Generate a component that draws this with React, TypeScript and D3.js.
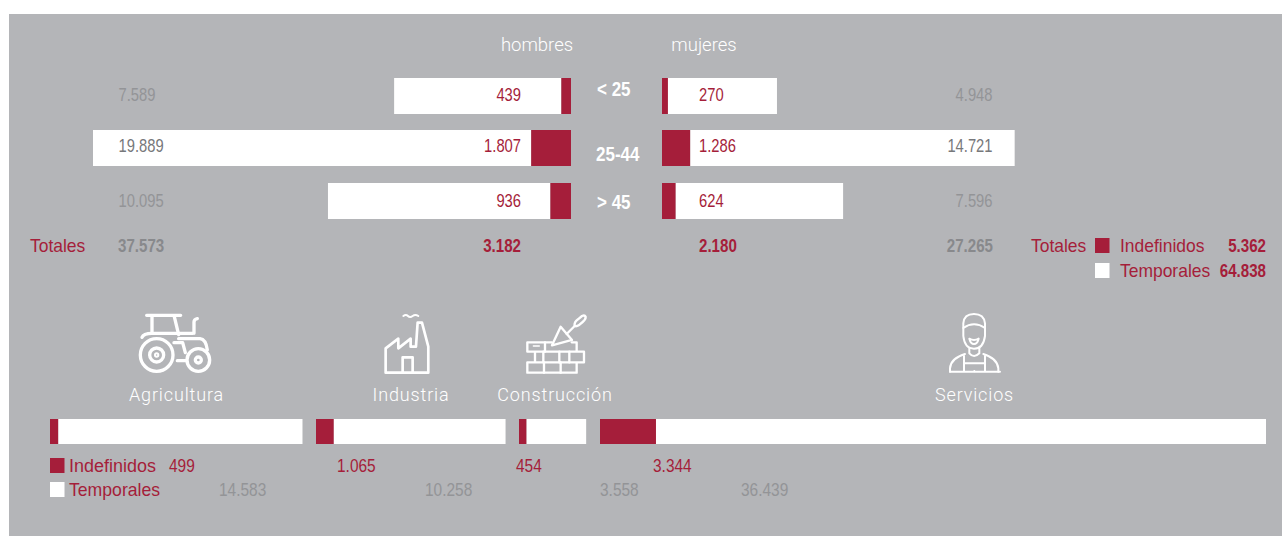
import React from "react";
import * as d3 from "d3";

const ageGroups = ["< 25", "25-44", "> 45"];
const menPermanent = [439, 1807, 936];
const menTemporary = [7589, 19889, 10095];
const womenPermanent = [270, 1286, 624];
const womenTemporary = [4948, 14721, 7596];
const menTotals = ["37.573", "3.182"];
const womenTotals = ["2.180", "27.265"];
const grandTotals = ["5.362", "64.838"];
const sectors = ["Agricultura", "Industria", "Construcción", "Servicios"];
const sectorPermanent = [499, 1065, 454, 3344];
const sectorTemporary = [14583, 10258, 3558, 36439];

const fmt = (v: number) => d3.format(",")(v).replace(",", ".");

const RED = "#a51e3a";
const BG = "#b4b5b8";
const GREY = "#88898c";
const LIGHT = "#939497";
const NARROW = "'Liberation Sans', sans-serif";
const THIN = "Roboto, sans-serif";

const rowTop = [78, 130, 183];
const rowH = 36;
const rowText = [101, 152, 207];
const ageY = [96, 161, 209];
const menX0 = 571;
const womenX0 = 662;
const pyramid = d3.scaleLinear().domain([0, 21696]).range([0, 478]);

const sectorX = d3.scaleLinear().domain([0, 39783]).range([0, 666]);
const sectorStart = [50, 316, 519, 600];
const permTextX = [169, 337, 516, 653];
const tempTextX = [219, 425, 600, 741];
const labelCx = [176.5, 411, 555, 974.5];

// The reference uses a condensed face; squeeze the installed one horizontally.
const T = ({ x, y, sx = 0.82, ...p }: any) => (
  <text transform={`translate(${x},${y}) scale(${sx},1)`} fontFamily={NARROW} fontSize={18} {...p} />
);
const WORD = 0.97;
const BOTTOM_NUM = 0.86;

function Icons() {
  const s = { fill: "none", stroke: "#fff", strokeWidth: 10, strokeLinejoin: "round" as const, strokeLinecap: "round" as const };
  return (
    <g>
      <g transform="translate(120,300) scale(0.3333)" {...s}>
        <path d="M80 46H182M96 46V100M162 46L176 104" />
        <path d="M66 112C70 102 80 100 96 100H218M222 100V66Q222 58 232 56M176 116H240Q258 118 262 150" />
        <circle cx="110" cy="165" r="49" />
        <circle cx="110" cy="165" r="21" />
        <circle cx="110" cy="165" r="3" />
        <path d="M162 128H188L196 158M172 182H198" />
        <circle cx="235" cy="180" r="34" />
        <circle cx="235" cy="180" r="9" />
      </g>
      <g transform="translate(120,300) scale(0.3333)" {...s} strokeWidth={8}>
        <path d="M797 218V145L835 116V145L872 116V140H888L893 68H906L925 140V218Z" />
        <path d="M848 218V172H878V218" />
        <path d="M850 48Q858 42 864 48T878 48T895 48" strokeWidth={6} />
      </g>
      <g transform="translate(490,300) scale(0.3333)" {...s} strokeWidth={7}>
        <path d="M185 127H112V155H260V127H245M135 155V187H282V155H260M112 187V218H260V187M112 187H135" />
        <path d="M160 155V187M208 155V187M238 155V187M162 187V218M212 187V218M165 127V155" />
        <path d="M212 80L186 136L246 120Z" />
        <path d="M230 102L254 78" />
        <path d="M254 78Q252 66 264 58L276 48Q284 44 287 50Q288 58 278 66L266 76Q260 80 254 78Z" />
        <path d="M130 138H148" strokeWidth={4} />
      </g>
      <g transform="translate(920,300) scale(0.3333)" {...s} strokeWidth={6}>
        <path d="M130 84V70Q132 42 162 42Q192 42 195 70V84" />
        <path d="M130 84Q162 62 195 84M130 84V108Q134 146 162 146Q190 146 195 108V84" />
        <path d="M148 116Q162 124 176 116Q172 132 162 132Q152 132 148 116Z" />
        <path d="M148 144V160Q162 176 178 160V144" />
        <path d="M90 215V205Q92 175 135 162M235 215V205Q232 175 190 162" />
        <path d="M90 215H240M132 168V190H195V168M132 190V215M195 190V215" />
        <path d="M163 213V214" />
      </g>
    </g>
  );
}

export default function App() {
  return (
    <svg width={1282} height={536} style={{ position: "absolute", left: 0, top: 0, background: "#fff" }}>
      <rect x={9} y={14} width={1273} height={522} fill={BG} />

      <text x={537} y={51} textAnchor="middle" fontFamily={THIN} fontWeight={300} fontSize={18.5} fill="#fff">hombres</text>
      <text x={704} y={51} textAnchor="middle" fontFamily={THIN} fontWeight={300} fontSize={18.5} fill="#fff">mujeres</text>

      {ageGroups.map((a, i) => {
        const mp = pyramid(menPermanent[i]);
        const mt = pyramid(menTemporary[i]);
        const wp = pyramid(womenPermanent[i]);
        const wt = pyramid(womenTemporary[i]);
        return (
          <g key={a}>
            <rect x={menX0 - mp - mt} y={rowTop[i]} width={mt} height={rowH} fill="#fff" />
            <rect x={menX0 - mp} y={rowTop[i]} width={mp} height={rowH} fill={RED} />
            <rect x={womenX0} y={rowTop[i]} width={wp} height={rowH} fill={RED} />
            <rect x={womenX0 + wp} y={rowTop[i]} width={wt} height={rowH} fill="#fff" />
            <T x={118.5} y={rowText[i]} fill={i === 1 ? "#77787b" : LIGHT}>{fmt(menTemporary[i])}</T>
            <T x={521} y={rowText[i]} textAnchor="end" fill={RED}>{fmt(menPermanent[i])}</T>
            <T x={699} y={rowText[i]} fill={RED}>{fmt(womenPermanent[i])}</T>
            <T x={992.5} y={rowText[i]} textAnchor="end" fill={i === 1 ? "#77787b" : LIGHT}>{fmt(womenTemporary[i])}</T>
            <T x={i === 1 ? 596 : 597} y={ageY[i]} sx={0.85} fontSize={20} fontWeight={700} fill="#fff">{a}</T>
          </g>
        );
      })}

      <T x={30} y={251.5} sx={WORD} fill={RED}>Totales</T>
      <T x={118} y={251.5} sx={0.84} fontWeight={700} fill={GREY}>{menTotals[0]}</T>
      <T x={521} y={251.5} sx={0.84} textAnchor="end" fontWeight={700} fill={RED}>{menTotals[1]}</T>
      <T x={699} y={251.5} sx={0.84} fontWeight={700} fill={RED}>{womenTotals[0]}</T>
      <T x={993} y={251.5} sx={0.84} textAnchor="end" fontWeight={700} fill={GREY}>{womenTotals[1]}</T>

      <T x={1031} y={251.5} sx={WORD} fill={RED}>Totales</T>
      <rect x={1095} y={238} width={14.5} height={15} fill={RED} />
      <rect x={1095} y={263} width={14.5} height={15} fill="#fff" />
      <T x={1120} y={251.5} sx={WORD} fill={RED}>Indefinidos</T>
      <T x={1120} y={276.5} sx={WORD} fill={RED}>Temporales</T>
      <T x={1266} y={251.5} sx={0.84} textAnchor="end" fontWeight={700} fill={RED}>{grandTotals[0]}</T>
      <T x={1266} y={276.5} sx={0.84} textAnchor="end" fontWeight={700} fill={RED}>{grandTotals[1]}</T>

      <Icons />

      {sectors.map((s, i) => {
        const p = sectorX(sectorPermanent[i]);
        const t = sectorX(sectorTemporary[i]);
        return (
          <g key={s}>
            <text x={labelCx[i]} y={400.5} textAnchor="middle" fontFamily={THIN} fontWeight={300} fontSize={18} letterSpacing={0.85} fill="#fff">{s}</text>
            <rect x={sectorStart[i]} y={419} width={p} height={25} fill={RED} />
            <rect x={sectorStart[i] + p} y={419} width={t} height={25} fill="#fff" />
            <T x={permTextX[i]} y={472} sx={BOTTOM_NUM} fill={RED}>{fmt(sectorPermanent[i])}</T>
            <T x={tempTextX[i]} y={496} sx={BOTTOM_NUM} fill={LIGHT}>{fmt(sectorTemporary[i])}</T>
          </g>
        );
      })}

      <rect x={50} y={458} width={14.5} height={15} fill={RED} />
      <rect x={50} y={482} width={14.5} height={15} fill="#fff" />
      <T x={69} y={472} sx={1} fill={RED}>Indefinidos</T>
      <T x={69} y={496} sx={0.98} fill={RED}>Temporales</T>
    </svg>
  );
}
